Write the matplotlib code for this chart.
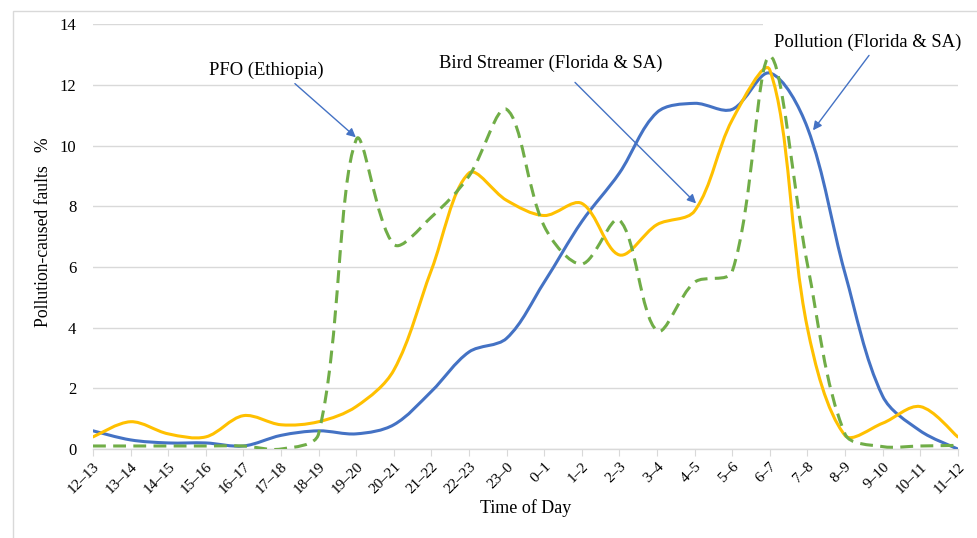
import numpy as np
import matplotlib
matplotlib.use('Agg')
import matplotlib.pyplot as plt
from matplotlib.path import Path
from matplotlib.patches import PathPatch, Rectangle

hours = ['12–13', '13–14', '14–15', '15–16', '16–17', '17–18', '18–19', '19–20',
         '20–21', '21–22', '22–23', '23–0', '0–1', '1–2', '2–3', '3–4', '4–5',
         '5–6', '6–7', '7–8', '8–9', '9–10', '10–11', '11–12']
pollution = [0.6, 0.3, 0.2, 0.2, 0.1, 0.45, 0.6, 0.5, 0.8, 1.9, 3.2, 3.65,
             5.5, 7.5, 9.1, 11.1, 11.4, 11.2, 12.4, 10.6, 5.8, 1.75, 0.6, 0.0]
bird = [0.4, 0.9, 0.5, 0.4, 1.1, 0.8, 0.9, 1.4, 2.6, 5.9, 9.1, 8.2,
        7.7, 8.1, 6.4, 7.4, 7.85, 10.85, 12.5, 4.0, 0.45, 0.85, 1.4, 0.4]
pfo = [0.1, 0.1, 0.1, 0.1, 0.1, 0.0, 0.5, 10.2, 6.75, 7.65, 9.0, 11.2,
       7.35, 6.1, 7.55, 3.9, 5.5, 5.85, 12.95, 6.1, 0.5, 0.08, 0.1, 0.12]

BLUE = '#4472C4'
GOLD = '#FFC000'
GREEN = '#70AD47'
GRID = '#D9D9D9'

plt.rcParams['font.family'] = ['Liberation Serif', 'DejaVu Serif']
plt.rcParams['font.size'] = 11.5

PX_X, PX_Y = 37.6, 30.36   # rough screen size of one data unit, for the smoothing


def smooth_path(ys):
    # Excel-like smoothed line: bezier segments, tangents weighted by segment length
    pts = np.column_stack([np.arange(len(ys)), np.asarray(ys, float)])
    scr = pts * [PX_X, PX_Y]
    seg = np.hypot(*np.diff(scr, axis=0).T)
    seg = np.concatenate([[seg[0]], seg, [seg[-1]]])
    ext = np.vstack([pts[:1], pts, pts[-1:]])
    tang = ext[2:] - ext[:-2]
    verts = [pts[0]]
    codes = [Path.MOVETO]
    for i in range(len(pts) - 1):
        L = seg[i + 1]
        c1 = pts[i] + tang[i] * L / (3 * (seg[i] + L))
        c2 = pts[i + 1] - tang[i + 1] * L / (3 * (L + seg[i + 2]))
        verts += [c1, c2, pts[i + 1]]
        codes += [Path.CURVE4] * 3
    return Path(verts, codes)


fig = plt.figure(figsize=(9.77, 5.38), dpi=100)
ax = fig.add_axes([0.0952, 0.1654, 0.8851, 0.7891])

# outer chart border (cropped at right/bottom)
fig.patches.append(Rectangle((13 / 977, -0.1), 1.2, 1.1 - 11.7 / 538 + 0.001,
                             transform=fig.transFigure, fill=False,
                             edgecolor=GRID, lw=1.0))

ax.set_xlim(0, len(hours) - 1)
ax.set_ylim(0, 14)
ax.set_yticks(range(0, 15, 2))
ax.set_xticks(range(len(hours)))
ax.set_xticklabels(hours, rotation=45, ha='right', rotation_mode='anchor')
ax.grid(axis='y', color=GRID, lw=1.0)
ax.set_axisbelow(True)
for s in ['top', 'right', 'left']:
    ax.spines[s].set_visible(False)
ax.spines['bottom'].set_color(GRID)
ax.spines['bottom'].set_linewidth(1.0)
ax.tick_params(axis='y', length=0, pad=12, labelsize=12)
ax.tick_params(axis='x', length=5, color=GRID, pad=3, labelsize=11)

ax.add_patch(PathPatch(smooth_path(pollution), fill=False, edgecolor=BLUE,
                       lw=2.2, zorder=3, capstyle='round'))
ax.add_patch(PathPatch(smooth_path(bird), fill=False, edgecolor=GOLD,
                       lw=2.2, zorder=3, capstyle='round'))
ax.add_patch(PathPatch(smooth_path(pfo), fill=False, edgecolor=GREEN,
                       lw=2.2, zorder=3, linestyle=(0, (4.2, 2.4))))

arrow = dict(arrowstyle='-|>', color=BLUE, lw=1.0, mutation_scale=13,
             shrinkA=0, shrinkB=0)
ax.annotate('', xy=(6.99, 10.28), xytext=(5.37, 12.05), arrowprops=arrow, zorder=4)
ax.text(4.60, 12.48, 'PFO (Ethiopia)', ha='center', va='center', zorder=1,
        fontsize=13.4)
ax.annotate('', xy=(16.04, 8.10), xytext=(12.82, 12.09), arrowprops=arrow, zorder=4)
ax.text(12.18, 12.71, 'Bird Streamer (Florida & SA)', ha='center', va='center',
        zorder=1, fontsize=13.4)
ax.annotate('', xy=(19.15, 10.51), xytext=(20.64, 12.98), arrowprops=arrow, zorder=4)
ax.text(20.61, 13.41, 'Pollution (Florida & SA)', ha='center', va='center', zorder=1,
        fontsize=13.4, bbox=dict(boxstyle='square,pad=0.6', fc='white', ec='none'))

ax.set_ylabel('Pollution-caused faults   %', fontsize=12.7)
ax.yaxis.set_label_coords(-0.0474, 0.51)
ax.set_xlabel('Time of Day', fontsize=13)
ax.xaxis.set_label_coords(0.5, -0.1178)

fig.savefig('out.png', dpi=100)
